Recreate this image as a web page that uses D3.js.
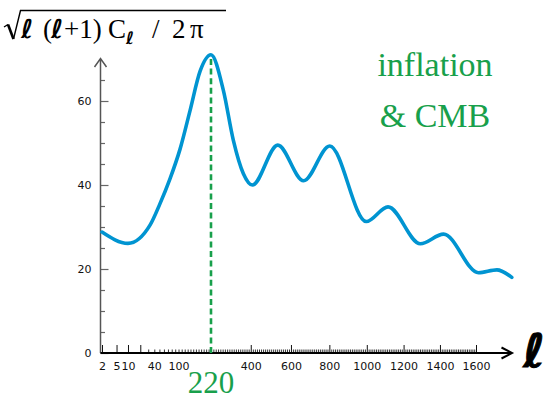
<!DOCTYPE html>
<meta charset="utf-8">
<head>
  <title>CMB power spectrum</title>
</head>
<style>
body { margin: 0; background: #fff; }
.tick text { font-family: "DejaVu Sans", sans-serif; font-size: 11px; fill: #111; }
.serif { font-family: "Liberation Serif", "Times New Roman", serif; }
.ell { font-family: "DejaVu Sans", sans-serif; font-weight: bold; font-style: italic; }
</style>
<body>
<script src="https://d3js.org/d3.v7.min.js"></script>
<script>

// multipole l and amplitude sqrt(l(l+1)Cl/2pi)
var ells = [2, 10, 33, 51, 75, 105, 138, 176, 220, 273, 318, 365, 408, 533, 665, 802, 997, 1115, 1292, 1420, 1614, 1717, 1800];
var amps = [28.8, 26.1, 30.5, 35.5, 41.4, 48.6, 57.6, 67.1, 71, 62.6, 50.7, 42.7, 40, 49.5, 41, 49.3, 31.3, 34.8, 26, 28.3, 19.1, 19.8, 18];

var xLabelTicks = [2, 5, 10, 40, 100, 400, 600, 800, 1000, 1200, 1400, 1600];
var xMajorTicks = [2, 5, 10, 20, 400, 600, 800, 1000, 1200, 1400, 1600];
var yLabelTicks = [0, 20, 40, 60];
var peakEll = 220;

var w = 545, h = 400;
var green = "#18a04b";

var svg = d3.select("body").append("svg")
  .attr("width", w)
  .attr("height", h);

// x axis: log-like at low l, linear at high l
function warp(l) { return l + 90 * Math.log(l); }
var xs = d3.scaleLinear().domain([warp(2), warp(1600)]).range([102, 476]);
function x(l) { return xs(warp(l)); }
var y = d3.scaleLinear().domain([0, 70]).range([353, 59]);

var x0 = 100.5, y0 = 353;

// minor ticks on x
var minor = d3.range(30, 1610, 10).filter(function(l) { return xMajorTicks.indexOf(l) < 0; });
svg.append("g")
  .attr("transform", "translate(0," + y0 + ")")
  .call(d3.axisBottom(xs).tickValues(minor.map(warp)).tickSize(-3.5).tickFormat(""))
  .call(function(g) { g.select(".domain").remove(); g.selectAll("line").attr("stroke", "#333"); });

svg.append("g")
  .attr("transform", "translate(0," + y0 + ")")
  .call(d3.axisBottom(xs).tickValues(xMajorTicks.map(warp)).tickSize(-8).tickFormat(""))
  .call(function(g) { g.select(".domain").remove(); g.selectAll("line").attr("stroke", "#111"); });

svg.append("g")
  .attr("transform", "translate(0," + y0 + ")")
  .call(d3.axisBottom(xs).tickValues(xLabelTicks.map(warp)).tickSize(0).tickPadding(9)
    .tickFormat(function(d, i) { return xLabelTicks[i]; }))
  .call(function(g) { g.select(".domain").remove(); });

// y ticks
svg.append("g")
  .attr("transform", "translate(" + x0 + ",0)")
  .call(d3.axisRight(y).tickValues(d3.range(5, 70, 5).filter(function(v) { return v % 20; })).tickSize(4.5).tickFormat(""))
  .call(function(g) { g.select(".domain").remove(); g.selectAll("line").attr("stroke", "#666").attr("stroke-width", 1.2); });

svg.append("g")
  .attr("transform", "translate(" + x0 + ",0)")
  .call(d3.axisRight(y).tickValues(yLabelTicks).tickSize(8).tickFormat(""))
  .call(function(g) { g.select(".domain").remove(); g.selectAll("line").attr("stroke", "#666").attr("stroke-width", 1.2); });

svg.append("g")
  .attr("transform", "translate(" + (x0 - 9) + ",0)")
  .call(d3.axisLeft(y).tickValues(yLabelTicks).tickSize(0).tickPadding(0))
  .call(function(g) { g.select(".domain").remove(); });

// axis lines with open arrows
svg.append("path")
  .attr("d", "M" + x0 + "," + y0 + "V58.5M94.5,67L" + x0 + ",58.5L106.5,67")
  .attr("fill", "none").attr("stroke", "#555").attr("stroke-width", 1.5);

svg.append("path")
  .attr("d", "M" + x0 + "," + y0 + "H512M501.5,347.5L512," + y0 + "L501.5,358.5")
  .attr("fill", "none").attr("stroke", "#000").attr("stroke-width", 2);

// dashed line at the first peak
svg.append("line")
  .attr("x1", x(peakEll)).attr("x2", x(peakEll))
  .attr("y1", y0).attr("y2", y(71))
  .attr("stroke", green).attr("stroke-width", 2.6)
  .attr("stroke-dasharray", "6,3.6");

// spectrum
var line = d3.line()
  .x(function(d, i) { return x(ells[i]); })
  .y(function(d) { return y(d); })
  .curve(d3.curveMonotoneX);

svg.append("path")
  .datum(amps)
  .attr("d", line)
  .attr("fill", "none")
  .attr("stroke", "#0094d1")
  .attr("stroke-width", 3.6)
  .attr("stroke-linecap", "round");

// labels
svg.append("text").attr("class", "serif")
  .attr("x", x(peakEll)).attr("y", 393)
  .attr("text-anchor", "middle")
  .attr("fill", green).attr("font-size", 31)
  .text("220");

svg.append("text").attr("class", "serif")
  .attr("x", 435).attr("y", 76)
  .attr("text-anchor", "middle")
  .attr("fill", green).attr("font-size", 34)
  .text("inflation");

svg.append("text").attr("class", "serif")
  .attr("x", 435).attr("y", 127)
  .attr("text-anchor", "middle")
  .attr("fill", green).attr("font-size", 34)
  .text("& CMB");

svg.append("text").attr("class", "ell")
  .attr("x", 545).attr("y", 367)
  .attr("text-anchor", "end")
  .attr("font-size", 46)
  .attr("stroke", "#000").attr("stroke-width", 1)
  .text("\u2113");

// y title
var title = svg.append("g").attr("class", "serif").attr("font-size", 27);
var pieces = [
  { t: "\u2113", x: 21, ell: true },
  { t: "(", x: 43 },
  { t: "\u2113", x: 51, ell: true },
  { t: "+1)", x: 64 },
  { t: "C", x: 108 },
  { t: "\u2113", x: 126, ell: true, sub: true },
  { t: "/", x: 152 },
  { t: "2", x: 172 },
  { t: "\u03c0", x: 190 }
];
title.selectAll("text").data(pieces).enter().append("text")
  .attr("class", function(d) { return d.ell ? "ell" : null; })
  .attr("x", function(d) { return d.x; })
  .attr("y", function(d) { return d.sub ? 44 : 38; })
  .attr("font-size", function(d) { return d.sub ? 17 : (d.ell ? 26 : 27); })
  .text(function(d) { return d.t; });

// radical sign
svg.append("path")
  .attr("d", "M4,27L8,24.5M13.5,39L20.5,10.5H226")
  .attr("fill", "none").attr("stroke", "#000").attr("stroke-width", 1.4);
svg.append("path")
  .attr("d", "M8,24.5L13.5,39")
  .attr("fill", "none").attr("stroke", "#000").attr("stroke-width", 2.6);

</script>
</body>
</html>
